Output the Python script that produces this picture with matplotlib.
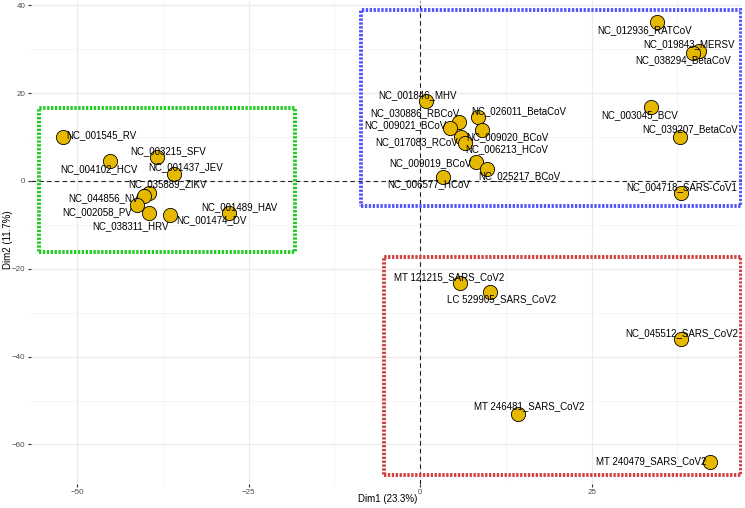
import matplotlib
matplotlib.use("Agg")
import matplotlib.pyplot as plt
from matplotlib.patches import Rectangle
from matplotlib.ticker import MultipleLocator

plt.rcParams['font.family'] = ['Liberation Sans', 'DejaVu Sans']

# Datos (coordenadas PCA)
nombres = [
    "NC_001545_RV", "NC_004102_HCV", "NC_003215_SFV", "NC_001437_JEV",
    "NC_035889_ZIKV", "NC_044856_NV", "NC_002058_PV", "NC_038311_HRV",
    "NC_001474_DV", "NC_001489_HAV",
    "NC_001846_MHV", "NC_030886_RBCoV", "NC_026011_BetaCoV", "NC_009021_BCoV",
    "NC_009020_BCoV", "NC_017083_RCoV", "NC_006213_HCoV", "NC_009019_BCoV",
    "NC_025217_BCoV", "NC_006577_HCoV",
    "NC_012936_RATCoV", "NC_019843_MERSV", "NC_038294_BetaCoV", "NC_003045_BCV",
    "NC_039207_BetaCoV", "NC_004718_SARS-CoV1",
    "MT 121215_SARS_CoV2", "LC 529905_SARS_CoV2", "NC_045512_SARS_CoV2",
    "MT 246481_SARS_CoV2", "MT 240479_SARS_CoV2",
]
dim1 = [-52.0, -45.2, -38.4, -35.8, -39.5, -40.2, -41.3, -39.5, -36.5, -27.8,
        0.9, 5.6, 8.4, 4.4, 9.0, 5.9, 6.6, 8.1, 9.7, 3.3,
        34.5, 40.6, 39.8, 33.6, 37.8, 38.0,
        5.8, 10.2, 38.0, 14.3, 42.2]
dim2 = [10.1, 4.6, 5.4, 1.6, -2.7, -3.4, -5.5, -7.4, -7.7, -7.4,
        18.1, 13.5, 14.6, 12.1, 11.6, 10.1, 8.7, 4.4, 2.7, 1.0,
        36.1, 29.5, 29.1, 16.8, 10.1, -2.8,
        -23.3, -25.2, -36.0, -53.1, -63.9]

# Grupos (rectángulos): x0, x1, y0, y1
grupo_x = [(-55.5, -18.3), (-8.6, 46.8), (-5.2, 46.8)]
grupo_y = [(-16.2, 16.7), (-5.6, 38.9), (-67.0, -17.4)]
grupo_color = ['#1ECB1E', '#5252FF', '#D04040']

# desplazamiento de etiquetas (px, estilo ggrepel)
offsets = [
    (38.4, -1.7), (-11.3, 8.3), (11.3, -6.6), (10.7, -7.3), (18.5, -8.4),
    (-40.5, 2.3), (-39.2, 7.0), (-18.8, 12.7), (41.7, 5.7), (9.7, -6.6),
    (-9.0, -6.0), (-43.3, -8.4), (41.0, -6.0), (-44.7, -2.3), (25.0, 7.3),
    (-44.4, 6.0), (41.7, 6.3), (-45.7, 1.0), (33.0, 7.0), (-14.0, 7.6),
    (-11.9, 7.3), (-10.1, -7.4), (-10.0, 7.4), (-11.2, 8.4), (10.7, -7.4),
    (0.6, -6.6),
    (-10.8, -6.6), (11.0, 7.6), (1.0, -6.3), (10.9, -8.0), (-58.5, 0.0),
]

fig = plt.figure(figsize=(7.45, 5.08), dpi=100)
ax = fig.add_axes([31/745, 1 - 483.5/508, 711/745, 483/508])

ax.set_xlim(-56.7, 46.9)
ax.set_ylim(-68.9, 41.1)

# Rejilla estilo theme_minimal
ax.xaxis.set_major_locator(MultipleLocator(25))
ax.xaxis.set_minor_locator(MultipleLocator(12.5))
ax.yaxis.set_major_locator(MultipleLocator(20))
ax.yaxis.set_minor_locator(MultipleLocator(10))
ax.grid(True, which='major', color='#EBEBEB', linewidth=0.9)
ax.grid(True, which='minor', color='#F2F2F2', linewidth=0.5)
ax.set_axisbelow(True)
for s in ax.spines.values():
    s.set_visible(False)
ax.tick_params(which='major', length=2.5, width=0.8, color='#333333',
               labelsize=5.8, labelcolor='#4D4D4D', pad=1.5)
ax.tick_params(which='minor', length=0)

ax.axhline(0, color='#222222', linestyle=(0, (4, 3)), linewidth=0.8, zorder=1)
ax.axvline(0, color='#222222', linestyle=(0, (4, 3)), linewidth=0.8, zorder=1)

for (x0, x1), (y0, y1), col in zip(grupo_x, grupo_y, grupo_color):
    r = Rectangle((x0, y0), x1 - x0, y1 - y0, fill=False, edgecolor=col,
                  linewidth=2.8, linestyle=(0, (0.6, 0.4)), zorder=2)
    ax.add_patch(r)

ax.scatter(dim1, dim2, s=105, c='#E7B800', edgecolors='black',
           linewidths=0.6, zorder=3)

for nombre, x, y, (dx, dy) in zip(nombres, dim1, dim2, offsets):
    ax.annotate(nombre, (x, y), xytext=(dx * 0.72, -dy * 0.72),
                textcoords='offset points', ha='center', va='center',
                fontsize=7, color='black', zorder=4)

ax.set_xlabel("Dim1 (23.3%)", fontsize=7)
ax.set_ylabel("Dim2 (11.7%)", fontsize=7)
ax.xaxis.label.set_va('center')
ax.yaxis.label.set_va('center')
ax.xaxis.set_label_coords(0.502, -(499 - 483.5) / 483)
ax.yaxis.set_label_coords(-(31 - 8) / 711, 0.504)

fig.savefig("out.png", dpi=100)
